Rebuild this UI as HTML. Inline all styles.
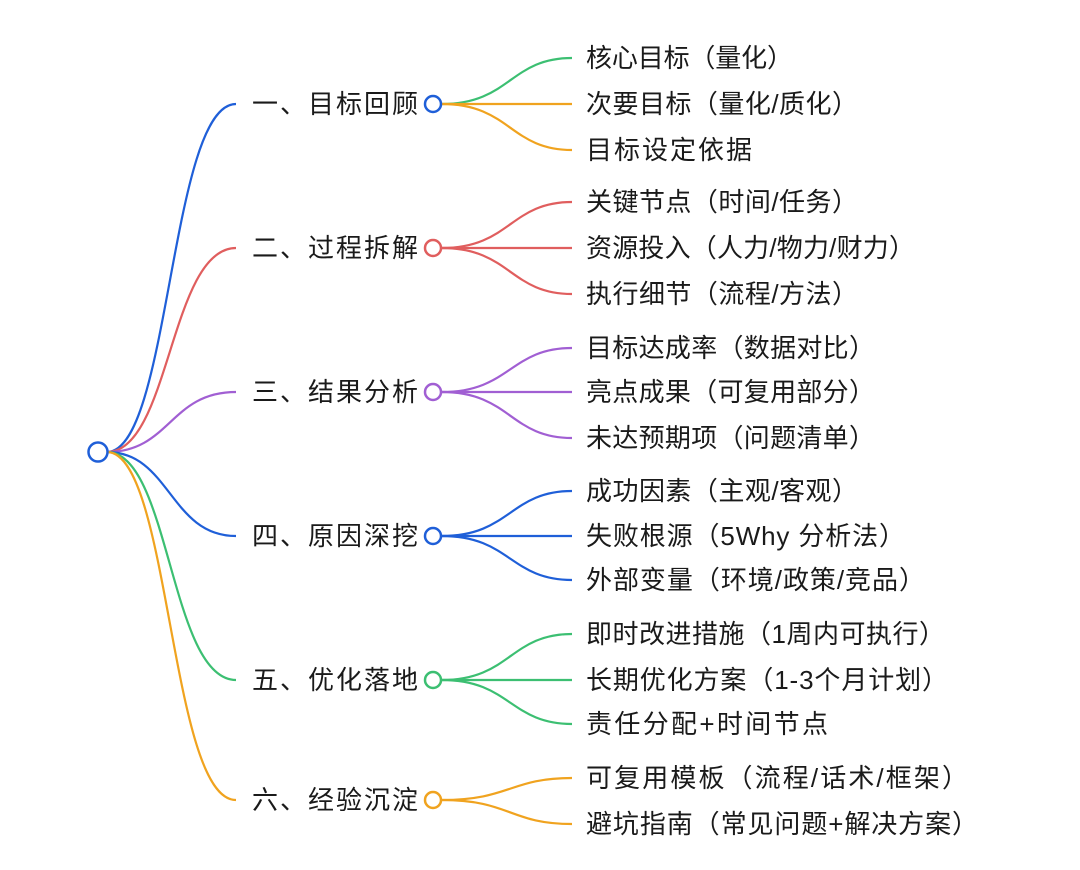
<!DOCTYPE html>
<html><head><meta charset="utf-8"><style>
html,body{margin:0;padding:0;background:#fff;width:1080px;height:870px;overflow:hidden}
text{font-family:"Liberation Sans","Noto Sans CJK SC",sans-serif;font-size:26px;fill:#1a1a1a;dominant-baseline:central}
path{fill:none;stroke-width:2.2}
</style></head><body>
<svg width="1080" height="870" viewBox="0 0 1080 870">
<g>
<path d="M107 452 C170 452,170 104,236 104" stroke="#1f5fd8"/>
<path d="M107 452 C170 452,170 248,236 248" stroke="#e05e5e"/>
<path d="M107 452 C170 452,170 392,236 392" stroke="#a15fd3"/>
<path d="M107 452 C170 452,170 536,236 536" stroke="#1f5fd8"/>
<path d="M107 452 C170 452,170 680,236 680" stroke="#3cbf72"/>
<path d="M107 452 C170 452,170 800,236 800" stroke="#f0a31f"/>
<circle cx="98" cy="452" r="9.5" fill="#fff" stroke="#1f5fd8" stroke-width="2.5"/>

<path d="M442 104 C510 104,510 58,572 58" stroke="#3cbf72"/>
<path d="M442 104 L572 104" stroke="#f0a31f"/>
<path d="M442 104 C510 104,510 150,572 150" stroke="#f0a31f"/>
<circle cx="433" cy="104" r="8" fill="#fff" stroke="#1f5fd8" stroke-width="2.5"/>
<text x="252" y="104" textLength="166" lengthAdjust="spacing">一、目标回顾</text>
<text x="586" y="58" textLength="207" lengthAdjust="spacing">核心目标（量化）</text>
<text x="586" y="104" textLength="272" lengthAdjust="spacing">次要目标（量化/质化）</text>
<text x="586" y="150" textLength="166" lengthAdjust="spacing">目标设定依据</text>

<g stroke="#e05e5e">
<path d="M442 248 C510 248,510 202,572 202"/>
<path d="M442 248 L572 248"/>
<path d="M442 248 C510 248,510 294,572 294"/>
</g>
<circle cx="433" cy="248" r="8" fill="#fff" stroke="#e05e5e" stroke-width="2.5"/>
<text x="252" y="248" textLength="166" lengthAdjust="spacing">二、过程拆解</text>
<text x="586" y="202" textLength="272" lengthAdjust="spacing">关键节点（时间/任务）</text>
<text x="586" y="248" textLength="329" lengthAdjust="spacing">资源投入（人力/物力/财力）</text>
<text x="586" y="294" textLength="272" lengthAdjust="spacing">执行细节（流程/方法）</text>

<g stroke="#a15fd3">
<path d="M442 392 C510 392,510 348,572 348"/>
<path d="M442 392 L572 392"/>
<path d="M442 392 C510 392,510 438,572 438"/>
</g>
<circle cx="433" cy="392" r="8" fill="#fff" stroke="#a15fd3" stroke-width="2.5"/>
<text x="252" y="392" textLength="166" lengthAdjust="spacing">三、结果分析</text>
<text x="586" y="348" textLength="289" lengthAdjust="spacing">目标达成率（数据对比）</text>
<text x="586" y="392" textLength="289" lengthAdjust="spacing">亮点成果（可复用部分）</text>
<text x="586" y="438" textLength="289" lengthAdjust="spacing">未达预期项（问题清单）</text>

<g stroke="#1f5fd8">
<path d="M442 536 C510 536,510 491,572 491"/>
<path d="M442 536 L572 536"/>
<path d="M442 536 C510 536,510 580,572 580"/>
</g>
<circle cx="433" cy="536" r="8" fill="#fff" stroke="#1f5fd8" stroke-width="2.5"/>
<text x="252" y="536" textLength="166" lengthAdjust="spacing">四、原因深挖</text>
<text x="586" y="491" textLength="272" lengthAdjust="spacing">成功因素（主观/客观）</text>
<text x="586" y="536" textLength="319" lengthAdjust="spacing">失败根源（5Why 分析法）</text>
<text x="586" y="580" textLength="339" lengthAdjust="spacing">外部变量（环境/政策/竞品）</text>

<g stroke="#3cbf72">
<path d="M442 680 C510 680,510 634,572 634"/>
<path d="M442 680 L572 680"/>
<path d="M442 680 C510 680,510 724,572 724"/>
</g>
<circle cx="433" cy="680" r="8" fill="#fff" stroke="#3cbf72" stroke-width="2.5"/>
<text x="252" y="680" textLength="166" lengthAdjust="spacing">五、优化落地</text>
<text x="586" y="634" textLength="359" lengthAdjust="spacing">即时改进措施（1周内可执行）</text>
<text x="586" y="680" textLength="362" lengthAdjust="spacing">长期优化方案（1-3个月计划）</text>
<text x="586" y="724" textLength="242" lengthAdjust="spacing">责任分配+时间节点</text>

<g stroke="#f0a31f">
<path d="M442 800 C510 800,510 778,572 778"/>
<path d="M442 800 C510 800,510 824,572 824"/>
</g>
<circle cx="433" cy="800" r="8" fill="#fff" stroke="#f0a31f" stroke-width="2.5"/>
<text x="252" y="800" textLength="166" lengthAdjust="spacing">六、经验沉淀</text>
<text x="586" y="778" textLength="382" lengthAdjust="spacing">可复用模板（流程/话术/框架）</text>
<text x="586" y="824" textLength="392" lengthAdjust="spacing">避坑指南（常见问题+解决方案）</text>
</g>
</svg>
</body></html>
